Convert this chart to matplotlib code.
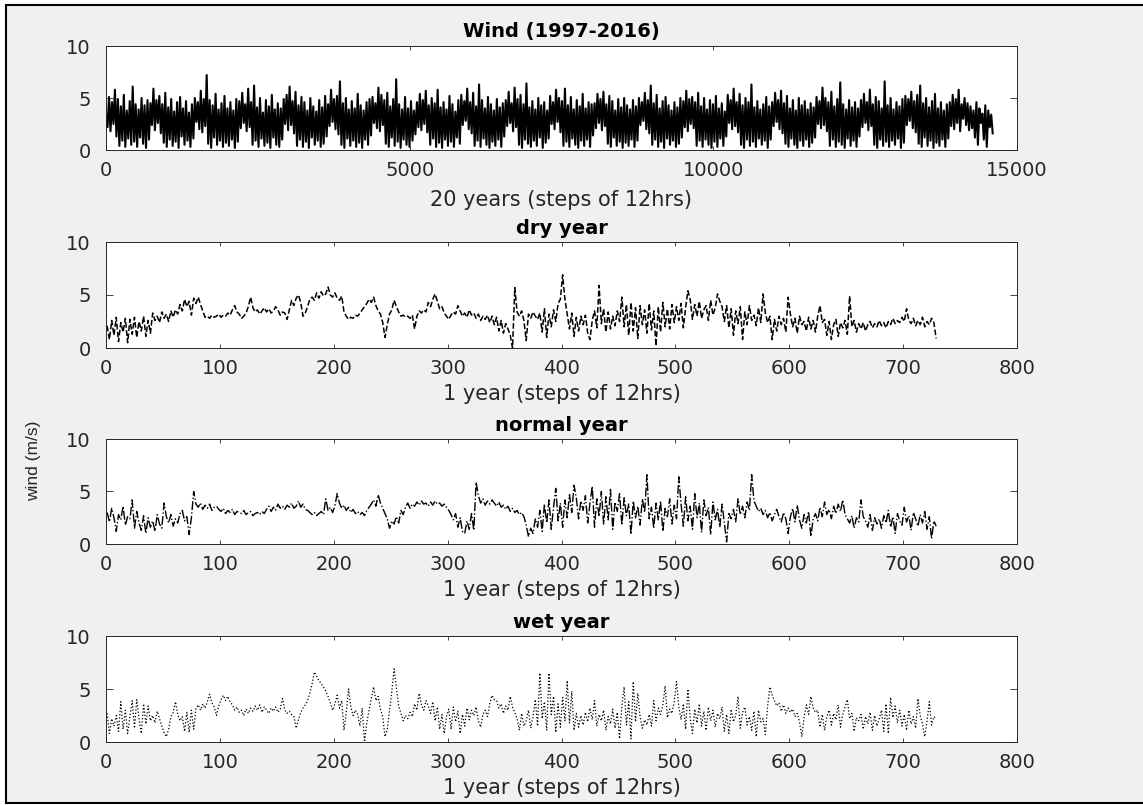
import numpy as np
import matplotlib
matplotlib.use("Agg")
import matplotlib.pyplot as plt
from matplotlib.patches import Rectangle

plt.rcParams['font.family'] = ['DejaVu Sans']

# Wind speed (m/s), 20 years 1997-2016, one row per year (coarse samples)
wind_20y = [
    3.4, 2.2, 5.1, 1.8, 4.6, 2.5, 5.8, 1.3, 4.9, 0.4, 4.2, 0.9, 5.3, 0.3, 3.8, 1.1, 4.7, 0.5, 6.1, 0.8, 4.4, 0.3, 3.9, 1.2, 5.0, 0.6, 4.3, 0.2, 4.8, 1.0,
    4.5, 2.4, 5.9, 1.9, 4.8, 2.6, 5.2, 1.6, 4.4, 0.7, 5.5, 0.3, 4.1, 1.0, 4.9, 0.4, 3.7, 0.8, 4.6, 0.2, 5.1, 1.3, 4.0, 0.5, 4.7, 0.9, 3.6, 0.3, 4.4, 1.1,
    5.0, 2.7, 4.6, 2.0, 5.7, 1.7, 4.9, 2.3, 7.2, 0.6, 4.8, 0.2, 4.3, 1.2, 5.4, 0.5, 3.9, 0.9, 4.5, 0.3, 5.2, 0.7, 4.0, 0.4, 4.6, 1.0, 3.8, 0.2, 4.9, 0.8,
    4.7, 2.1, 5.5, 2.6, 4.4, 1.8, 5.9, 2.2, 4.6, 0.5, 6.2, 0.9, 4.1, 0.3, 5.0, 1.1, 3.6, 0.4, 4.8, 0.7, 4.2, 0.2, 5.3, 1.2, 3.9, 0.5, 4.5, 0.3, 4.0, 1.0,
    4.9, 2.5, 5.3, 1.9, 6.1, 2.4, 4.7, 1.6, 5.6, 0.4, 4.3, 1.0, 5.1, 0.3, 4.6, 0.8, 3.8, 0.2, 5.0, 1.2, 4.2, 0.5, 3.7, 0.9, 4.8, 0.3, 4.1, 0.6, 5.2, 1.3,
    4.4, 2.3, 5.8, 2.7, 4.9, 2.0, 5.2, 1.5, 6.6, 0.5, 4.5, 0.2, 5.0, 1.1, 3.9, 0.4, 4.7, 0.9, 4.0, 0.3, 5.4, 0.7, 4.3, 0.2, 3.8, 1.0, 4.6, 0.5, 4.9, 1.4,
    5.1, 2.6, 4.5, 2.1, 6.0, 1.8, 5.3, 2.4, 4.8, 0.6, 5.5, 0.3, 4.2, 1.2, 4.9, 0.4, 6.8, 0.8, 4.4, 0.2, 3.9, 1.0, 5.1, 0.5, 4.0, 0.3, 4.7, 0.9, 3.8, 1.5,
    4.6, 2.2, 5.4, 1.9, 4.8, 2.5, 5.7, 1.7, 4.3, 0.5, 5.0, 1.1, 4.5, 0.3, 5.8, 0.7, 4.1, 0.2, 4.6, 1.0, 3.9, 0.4, 5.2, 0.8, 4.4, 0.3, 3.7, 1.2, 4.8, 0.6,
    5.3, 2.4, 4.7, 2.8, 5.9, 2.0, 4.6, 1.6, 5.5, 0.4, 4.2, 0.9, 6.3, 0.3, 4.8, 1.1, 4.0, 0.5, 5.1, 0.2, 4.4, 0.8, 3.8, 0.4, 4.9, 1.0, 4.1, 0.3, 4.5, 1.3,
    4.8, 2.3, 5.6, 2.6, 4.5, 1.8, 6.0, 2.2, 4.9, 0.5, 5.3, 0.2, 4.4, 1.0, 6.4, 0.6, 4.1, 0.3, 4.7, 0.9, 3.9, 0.4, 5.0, 1.2, 4.3, 0.2, 4.6, 0.7, 3.8, 1.1,
    5.2, 2.5, 4.6, 2.0, 5.8, 2.7, 5.0, 1.7, 4.7, 0.4, 5.9, 0.8, 4.3, 0.3, 5.1, 1.1, 3.9, 0.5, 4.8, 0.2, 4.2, 0.9, 5.4, 0.4, 4.0, 1.0, 4.6, 0.3, 4.4, 1.4,
    4.5, 2.1, 5.4, 2.6, 4.9, 1.9, 5.6, 2.3, 4.4, 0.6, 5.2, 0.3, 4.7, 1.2, 3.8, 0.4, 4.9, 0.8, 4.1, 0.2, 5.0, 0.7, 4.3, 0.4, 3.9, 1.0, 4.8, 0.3, 4.2, 0.9,
    5.0, 2.4, 4.6, 2.8, 5.5, 2.0, 4.8, 1.6, 6.2, 0.5, 4.5, 1.0, 5.3, 0.3, 4.0, 0.8, 4.7, 0.2, 5.1, 1.1, 4.3, 0.5, 3.8, 0.9, 4.6, 0.3, 4.1, 0.6, 5.0, 1.2,
    4.7, 2.2, 5.7, 1.8, 4.9, 2.5, 5.1, 2.1, 4.6, 0.4, 5.5, 0.9, 4.2, 0.3, 5.0, 1.0, 3.9, 0.5, 4.8, 0.2, 4.4, 0.8, 5.2, 0.3, 4.0, 1.1, 4.5, 0.4, 3.7, 1.3,
    5.3, 2.6, 4.8, 2.0, 5.9, 2.3, 4.6, 1.7, 5.4, 0.5, 4.3, 0.2, 5.0, 1.0, 4.6, 0.4, 6.3, 0.8, 4.1, 0.3, 4.7, 1.1, 3.9, 0.5, 4.4, 0.9, 5.1, 0.2, 4.2, 1.0,
    4.6, 2.3, 5.5, 2.7, 4.8, 2.0, 5.7, 1.6, 4.5, 0.6, 5.2, 0.3, 4.0, 1.1, 4.8, 0.5, 3.8, 0.2, 5.0, 0.9, 4.3, 0.4, 4.7, 1.0, 3.9, 0.3, 4.5, 0.7, 4.1, 1.2,
    5.1, 2.5, 4.7, 2.1, 6.0, 2.4, 5.0, 1.8, 4.6, 0.4, 5.6, 1.0, 4.2, 0.3, 4.9, 0.8, 6.5, 0.5, 4.4, 0.2, 3.9, 1.1, 4.8, 0.4, 4.1, 0.9, 4.6, 0.3, 4.0, 1.3,
    4.8, 2.2, 5.4, 2.6, 4.6, 1.9, 5.8, 2.3, 4.4, 0.5, 5.1, 0.2, 4.7, 1.0, 4.0, 0.4, 6.6, 0.8, 4.3, 0.3, 5.0, 0.9, 3.9, 0.5, 4.6, 1.1, 4.2, 0.2, 4.9, 0.7,
    5.2, 2.4, 4.9, 2.8, 5.6, 2.1, 4.7, 1.7, 5.3, 0.6, 6.2, 0.3, 4.5, 1.2, 5.0, 0.4, 4.1, 0.9, 4.7, 0.2, 5.4, 0.7, 4.0, 0.4, 4.6, 1.0, 3.8, 0.3, 4.4, 1.1,
    4.6, 2.3, 5.3, 2.0, 4.9, 2.6, 5.8, 1.8, 4.4, 3.0, 5.0, 2.4, 4.5, 1.9, 4.2, 2.1, 3.8, 1.2, 4.6, 0.5, 4.0, 2.6, 3.5, 1.0, 4.3, 0.3, 3.8, 2.2, 3.4, 1.6,
]

# One year each, every second 12-hour step
dry_year = [
    2.1, 0.8, 2.6, 1.2, 2.9, 0.6, 2.4, 1.5, 2.8, 0.5,
    2.7, 1.3, 2.9, 1.0, 2.5, 1.6, 3.0, 1.1, 2.6, 1.4,
    3.3, 2.6, 3.0, 2.4, 3.4, 2.8, 3.2, 2.5, 3.5, 2.9,
    3.6, 3.2, 4.1, 3.5, 4.6, 3.9, 4.4, 3.1, 4.7, 4.2,
    4.8, 4.1, 3.5, 2.9, 3.0, 2.8, 3.1, 2.9, 3.0, 3.2,
    2.9, 3.1, 3.0, 3.3, 3.1, 3.6, 4.0, 3.4, 3.2, 2.8,
    3.0, 3.3, 3.9, 4.8, 3.8, 3.4, 3.6, 3.2, 3.5, 3.8,
    3.4, 3.7, 3.3, 3.5, 3.9, 3.6, 3.1, 3.4, 3.3, 2.7,
    3.6, 4.5, 4.0, 4.7, 5.0, 4.3, 3.0, 3.3, 3.9, 4.6,
    4.8, 4.5, 5.2, 4.7, 5.3, 4.9, 5.1, 5.75, 5.0, 4.8,
    5.2, 4.7, 4.5, 4.9, 3.4, 3.0, 2.7, 2.9, 2.8, 3.1,
    3.0, 3.3, 3.6, 3.9, 4.2, 4.6, 4.3, 4.8, 4.0, 3.5,
    3.2, 2.4, 1.0, 2.2, 3.2, 3.6, 4.5, 3.9, 3.4, 3.0,
    3.1, 2.9, 3.0, 2.8, 3.1, 1.8, 3.0, 3.5, 3.3, 3.6,
    3.4, 4.3, 3.9, 4.6, 5.1, 4.4, 3.7, 3.9, 3.3, 3.0,
    2.7, 3.1, 3.4, 3.2, 4.0, 3.5, 3.0, 3.3, 2.9, 3.6,
    3.1, 3.3, 2.8, 3.2, 2.6, 3.0, 2.7, 3.1, 2.4, 3.0,
    2.2, 2.9, 1.6, 2.6, 1.4, 2.3, 1.8, 1.2, 0.0, 5.7,
    3.4, 3.0, 3.5, 2.6, 0.7, 3.2, 2.8, 3.4, 3.0, 2.7,
    3.3, 1.5, 3.7, 1.0, 3.2, 2.0, 3.6, 2.5, 4.2, 4.6,
    6.9, 4.6, 3.2, 1.8, 3.3, 1.1, 2.9, 1.6, 3.0, 2.2,
    3.1, 1.4, 0.8, 2.6, 3.5, 1.9, 5.9, 2.3, 3.7, 1.5,
    3.4, 1.8, 3.0, 2.1, 3.5, 2.5, 4.8, 2.0, 4.1, 1.2,
    4.3, 1.6, 3.8, 0.9, 4.0, 2.2, 3.6, 1.4, 4.2, 1.7,
    3.5, 0.2, 3.9, 1.5, 4.3, 2.0, 3.7, 1.8, 4.1, 2.4,
    3.9, 2.6, 4.2, 1.9, 3.8, 5.4, 4.6, 2.7, 4.1, 3.0,
    4.4, 2.8, 3.6, 4.0, 2.6, 4.5, 3.1, 3.8, 5.1, 4.4,
    3.9, 2.5, 4.0, 1.9, 3.7, 1.2, 3.5, 2.3, 3.9, 0.8,
    3.4, 2.2, 4.0, 2.6, 3.1, 2.1, 3.8, 2.4, 5.1, 3.3,
    2.4, 3.0, 0.8, 2.7, 1.6, 3.0, 2.2, 2.8, 1.5, 4.8,
    3.2, 2.0, 2.8, 1.4, 3.0, 2.2, 2.5, 1.6, 2.9, 1.8,
    2.6, 1.5, 3.0, 4.0, 2.4, 2.7, 1.2, 2.5, 0.8, 2.2,
    2.7, 1.1, 2.4, 1.9, 2.6, 1.3, 4.9, 2.0, 2.6, 1.5,
    2.3, 1.8, 2.4, 1.6, 2.2, 2.5, 1.9, 2.3, 2.0, 2.6,
    2.1, 2.4, 1.9, 2.5, 2.2, 2.8, 2.3, 2.6, 2.4, 2.9,
    2.5, 3.7, 2.6, 2.3, 2.8, 2.1, 2.6, 2.2, 2.9, 2.0,
    2.5, 2.2, 2.8, 2.4, 0.9,
]

normal_year = [
    3.0, 2.1, 3.4, 2.5, 1.2, 2.8, 2.3, 3.6, 1.8, 2.6,
    2.4, 4.2, 1.5, 3.1, 2.0, 1.3, 2.7, 1.0, 2.5, 1.6,
    2.2, 1.2, 2.8, 1.9, 1.5, 3.9, 2.6, 2.0, 2.8, 1.7,
    2.4, 2.0, 2.9, 3.2, 2.2, 2.6, 0.9, 2.5, 5.0, 3.8,
    3.5, 3.9, 3.3, 3.7, 3.4, 3.8, 3.2, 3.5, 3.6, 3.3,
    3.1, 3.4, 2.9, 3.2, 3.0, 3.3, 2.8, 3.1, 3.0, 2.9,
    3.2, 2.8, 3.0, 3.1, 2.7, 2.9, 3.0, 2.8, 3.1, 2.9,
    3.3, 3.6, 3.1, 3.5, 3.2, 3.8, 3.4, 3.6, 3.3, 3.7,
    3.5, 3.9, 3.4, 3.6, 4.1, 3.5, 3.8, 3.3, 3.2, 3.0,
    2.8, 3.0, 2.7, 2.9, 3.1, 2.8, 4.3, 3.2, 3.5, 3.0,
    3.6, 4.8, 3.9, 3.4, 3.7, 3.2, 3.5, 3.0, 3.3, 2.9,
    3.1, 2.8, 3.0, 2.7, 3.2, 3.5, 3.8, 4.2, 3.6, 4.7,
    3.9, 3.4, 2.9, 2.4, 1.5, 2.2, 1.9, 2.6, 2.0, 3.2,
    2.8, 3.5, 3.9, 3.4, 3.8, 3.6, 4.0, 3.7, 4.1, 3.8,
    3.9, 3.6, 4.0, 3.7, 4.1, 3.8, 3.9, 3.6, 3.8, 3.5,
    3.2, 2.8, 2.3, 2.9, 1.6, 2.5, 1.2, 1.0, 2.2, 1.4,
    2.9, 1.3, 5.9, 4.6, 3.9, 4.3, 3.7, 4.1, 3.8, 4.2,
    3.9, 3.6, 4.0, 3.5, 3.7, 3.3, 3.6, 3.1, 3.4, 3.0,
    3.2, 2.8, 3.0, 2.6, 1.8, 0.7, 1.5, 1.0, 2.4, 1.6,
    3.2, 1.2, 3.8, 2.0, 4.2, 1.4, 3.5, 5.3, 2.2, 3.9,
    1.6, 4.2, 2.5, 4.7, 3.0, 5.6, 4.4, 2.4, 4.1, 3.2,
    4.6, 2.0, 3.9, 5.5, 1.6, 4.3, 2.6, 5.0, 1.9, 4.5,
    2.3, 5.2, 1.4, 4.0, 3.1, 4.8, 1.8, 4.4, 2.7, 3.8,
    0.9, 4.1, 2.5, 3.6, 1.8, 4.3, 3.0, 6.6, 2.4, 3.5,
    1.5, 3.9, 2.3, 4.1, 1.2, 3.4, 2.6, 4.3, 1.9, 3.7,
    2.4, 6.4, 3.8, 1.7, 4.5, 2.2, 3.6, 1.4, 4.8, 2.5,
    3.9, 1.1, 4.2, 2.7, 3.5, 0.9, 4.0, 2.3, 3.3, 1.6,
    3.8, 2.0, 0.2, 2.9, 2.4, 3.3, 2.1, 4.3, 2.8, 3.6,
    2.5, 4.0, 3.2, 6.6, 4.1, 3.6, 3.1, 3.4, 2.8, 3.2,
    2.5, 3.0, 2.2, 2.8, 3.3, 2.6, 2.1, 3.0, 2.4, 1.0,
    2.6, 3.4, 2.1, 3.7, 2.3, 1.5, 2.8, 2.0, 3.1, 0.7,
    2.4, 2.9, 2.2, 3.5, 2.6, 4.0, 2.8, 3.3, 2.4, 3.6,
    2.9, 3.8, 3.1, 4.2, 2.8, 2.4, 2.0, 2.7, 1.5, 2.5,
    2.1, 4.2, 2.6, 2.2, 1.6, 2.8, 1.3, 2.5, 1.9, 2.4,
    1.5, 2.7, 2.0, 3.2, 1.6, 2.6, 1.0, 2.9, 2.2, 1.8,
    3.5, 2.1, 2.7, 1.3, 3.0, 2.4, 1.7, 2.8, 2.0, 3.1,
    1.4, 2.6, 0.5, 2.2, 1.7,
]

wet_year = [
    2.7, 0.8, 2.2, 1.5, 2.5, 1.0, 3.8, 1.2, 3.0, 0.8,
    2.4, 3.9, 1.3, 4.0, 2.2, 0.8, 3.6, 1.7, 3.4, 2.0,
    2.5, 1.8, 2.9, 2.2, 1.5, 0.9, 0.5, 1.2, 2.4, 2.8,
    3.8, 2.6, 2.0, 2.4, 1.0, 2.8, 0.9, 3.0, 1.2, 3.2,
    3.5, 3.0, 3.6, 3.2, 3.8, 4.5, 3.7, 3.3, 2.5, 3.4,
    4.0, 4.4, 3.9, 4.3, 3.8, 3.5, 3.0, 3.3, 2.8, 3.0,
    2.5, 3.1, 2.7, 3.2, 2.9, 3.4, 3.0, 3.5, 2.8, 3.3,
    3.0, 2.7, 3.2, 2.9, 3.3, 2.8, 3.1, 4.1, 3.0, 2.7,
    2.9, 2.6, 2.4, 1.3, 2.1, 2.8, 3.2, 3.5, 3.9, 4.6,
    5.5, 6.6, 6.2, 5.8, 5.5, 5.2, 4.8, 4.3, 3.7, 3.0,
    3.6, 4.4, 3.2, 3.9, 1.1, 2.8, 5.0, 3.3, 2.5, 3.0,
    2.6, 1.5, 3.2, 0.0, 1.8, 3.0, 4.1, 5.2, 3.9, 4.3,
    3.1, 2.4, 0.5, 1.2, 3.0, 4.8, 6.9, 5.1, 3.4, 2.7,
    2.0, 2.5, 2.2, 2.8, 2.4, 3.6, 3.0, 4.6, 3.5, 3.0,
    3.9, 3.4, 2.7, 3.8, 2.0, 3.3, 1.2, 2.6, 0.8, 2.4,
    3.1, 1.2, 3.3, 1.9, 2.9, 0.8, 2.6, 1.5, 3.2, 2.1,
    3.0, 2.5, 3.3, 2.0, 1.4, 2.6, 3.0, 2.4, 3.6, 4.4,
    4.0, 3.9, 3.2, 3.6, 2.7, 3.4, 3.0, 4.3, 3.3, 2.8,
    2.2, 1.1, 2.7, 1.5, 2.0, 3.0, 1.3, 2.4, 4.0, 1.5,
    6.5, 2.2, 3.8, 1.1, 6.5, 2.6, 4.3, 0.9, 3.6, 1.4,
    4.2, 2.0, 5.8, 1.8, 4.8, 1.1, 2.7, 1.4, 2.5, 1.6,
    2.8, 1.9, 3.2, 2.1, 3.9, 1.5, 2.6, 2.0, 3.0, 1.1,
    2.4, 1.7, 3.1, 1.3, 2.8, 0.3, 3.4, 5.2, 1.6, 3.8,
    0.3, 5.7, 1.9, 4.6, 2.4, 1.3, 2.1, 1.6, 2.6, 1.5,
    3.9, 2.0, 3.2, 2.6, 3.5, 5.3, 2.3, 3.1, 2.7, 3.8,
    5.7, 3.3, 2.1, 3.6, 1.2, 5.0, 2.3, 0.8, 3.1, 1.8,
    3.6, 1.5, 2.9, 1.1, 3.3, 2.0, 3.0, 1.4, 2.7, 2.2,
    3.3, 1.0, 2.6, 0.8, 3.1, 1.9, 2.5, 4.3, 1.3, 2.8,
    3.3, 1.6, 2.4, 1.1, 2.9, 0.5, 3.0, 1.9, 2.2, 0.7,
    3.4, 5.2, 4.4, 3.9, 3.4, 3.7, 2.9, 3.5, 2.7, 3.2,
    2.8, 3.1, 2.4, 2.7, 1.9, 0.5, 2.3, 3.5, 2.6, 4.3,
    3.2, 2.8, 3.0, 1.4, 2.6, 1.1, 2.4, 3.0, 1.6, 2.7,
    2.1, 3.5, 1.4, 2.6, 3.3, 4.0, 2.2, 2.7, 1.0, 2.3,
    2.0, 2.6, 1.2, 2.4, 1.7, 2.8, 1.1, 2.5, 1.5, 2.2,
    3.0, 1.0, 3.6, 0.8, 4.2, 2.3, 3.4, 1.8, 3.0, 1.5,
    2.6, 1.1, 3.0, 1.7, 2.4, 1.3, 4.1, 2.5, 1.7, 0.5,
    2.0, 3.8, 1.6, 2.4, 2.2,
]

W, H = 1143, 805
AX_LEFT, AX_RIGHT = 106, 1017
TICK_COLOR = '#262626'

fig = plt.figure(figsize=(W / 100, H / 100), dpi=100, facecolor='white')
# grey window area with a dark frame
fig.patches.append(Rectangle((6 / W, 2 / H), 1.0, 798 / H, transform=fig.transFigure,
                             facecolor='#f0f0f0', edgecolor='black', linewidth=1.5, zorder=-1))


def make_axes(top_px, bottom_px):
    return fig.add_axes([AX_LEFT / W, 1 - bottom_px / H,
                         (AX_RIGHT - AX_LEFT) / W, (bottom_px - top_px) / H])


def style_axes(ax, title, xlabel, xmax, xstep, height_px):
    ax.set_xlim(0, xmax)
    ax.set_ylim(0, 10)
    ax.set_xticks(np.arange(0, xmax + 1, xstep))
    ax.set_yticks([0, 5, 10])
    ax.tick_params(axis='both', direction='in', top=True, right=True,
                   colors=TICK_COLOR, labelsize=14, width=0.6)
    ax.tick_params(axis='x', length=3, pad=8)
    ax.tick_params(axis='y', length=5, pad=11)
    for s in ax.spines.values():
        s.set_color(TICK_COLOR)
        s.set_linewidth(0.7)
    ax.set_title(title, fontsize=14, fontweight='bold', y=1 + 14 / height_px,
                 pad=0, va='center')
    ax.set_xlabel(xlabel, fontsize=15, color=TICK_COLOR, va='center')
    ax.xaxis.set_label_coords(0.5, -46 / height_px)


# 20 years
ax1 = make_axes(46, 150)
x20 = np.linspace(1, 14600, len(wind_20y))
ax1.plot(x20, wind_20y, color='black', linewidth=1.5)
style_axes(ax1, 'Wind (1997-2016)', '20 years (steps of 12hrs)', 15000, 5000, 104)
ax1.xaxis.set_label_coords(0.5, -50 / 104)

# single years
years = [
    (dry_year, '--', 1.1, 'dry year', 242, 348),
    (normal_year, '-.', 1.0, 'normal year', 439, 544),
    (wet_year, ':', 0.9, 'wet year', 636, 742),
]
axes = []
for vals, ls, lw, title, top, bottom in years:
    ax = make_axes(top, bottom)
    xs = 1 + 2 * np.arange(len(vals))
    ax.plot(xs, vals, color='black', linestyle=ls, linewidth=lw)
    style_axes(ax, title, '1 year (steps of 12hrs)', 800, 100, bottom - top)
    axes.append(ax)

ax3 = axes[1]
ax3.set_ylabel('wind (m/s)', fontsize=12.5, color=TICK_COLOR,
               family=['Liberation Sans', 'DejaVu Sans'], va='center', ha='center')
ax3.yaxis.set_label_coords(-72 / 911, 83 / 105)

fig.savefig('out.png', dpi=100, facecolor=fig.get_facecolor())
